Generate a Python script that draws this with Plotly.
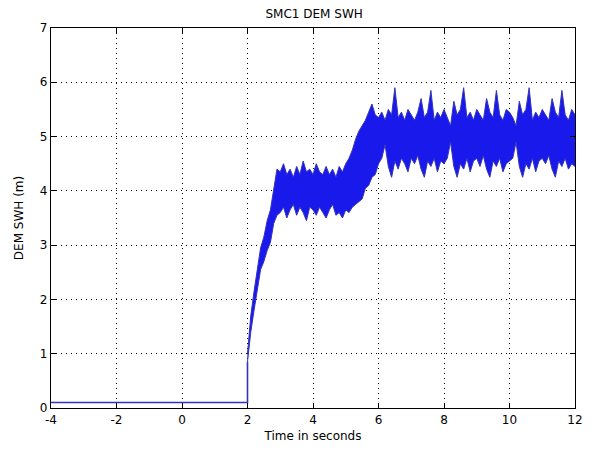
import plotly.graph_objects as go

# Pre-step baseline (seconds, metres)
base_t = [-4.0, 2.0, 2.0]
base_v = [0.1, 0.1, 0.85]

# Envelope of the noisy signal after the step, sampled every 0.1 s
env_t = [round(2.0 + 0.1 * i, 1) for i in range(101)]
env_hi = [
    1.0, 1.7, 2.15, 2.6, 2.95, 3.15, 3.45, 3.65, 4.0, 4.4,
    4.35, 4.5, 4.3, 4.4, 4.25, 4.45, 4.3, 4.55, 4.35, 4.4,
    4.3, 4.5, 4.35, 4.3, 4.45, 4.3, 4.4, 4.25, 4.45, 4.35,
    4.5, 4.6, 4.75, 4.95, 5.1, 5.2, 5.3, 5.45, 5.6, 5.4,
    5.35, 5.45, 5.3, 5.5, 5.4, 5.9, 5.35, 5.45, 5.3, 5.5,
    5.4, 5.3, 5.45, 5.7, 5.35, 5.45, 5.85, 5.3, 5.45, 5.35,
    5.5, 5.35, 5.2, 5.65, 5.4, 5.5, 5.9, 5.35, 5.45, 5.3,
    5.5, 5.4, 5.3, 5.7, 5.45, 5.35, 5.85, 5.4, 5.3, 5.5,
    5.45, 5.35, 5.2, 5.65, 5.4, 5.5, 5.9, 5.3, 5.45, 5.35,
    5.5, 5.4, 5.3, 5.7, 5.45, 5.35, 5.85, 5.4, 5.3, 5.5,
    5.4,
]
env_lo = [
    0.85, 1.4, 1.8, 2.2, 2.55, 2.7, 2.9, 3.05, 3.4, 3.55,
    3.6, 3.7, 3.5, 3.65, 3.75, 3.55, 3.7, 3.6, 3.45, 3.7,
    3.65, 3.55, 3.7, 3.6, 3.5, 3.65, 3.75, 3.55, 3.6, 3.5,
    3.65, 3.6, 3.7, 3.75, 3.8, 3.85, 4.05, 4.1, 4.25, 4.3,
    4.5, 4.6, 4.85, 4.45, 4.25, 4.55, 4.4, 4.6, 4.5, 4.35,
    4.6, 4.5, 4.65, 4.4, 4.25, 4.55, 4.45, 4.6, 4.35, 4.55,
    4.5, 4.6, 4.9, 4.45, 4.25, 4.5, 4.4, 4.6, 4.35, 4.55,
    4.6, 4.45, 4.65, 4.4, 4.25, 4.55, 4.45, 4.6, 4.35, 4.5,
    4.55, 4.6, 4.9, 4.45, 4.25, 4.5, 4.4, 4.6, 4.35, 4.55,
    4.6, 4.5, 4.65, 4.4, 4.25, 4.55, 4.45, 4.6, 4.4, 4.5,
    4.45,
]

x_ticks = [-4, -2, 0, 2, 4, 6, 8, 10, 12]
x_labels = ["-4", "-2", "0", "2", "4", "6", "8", "10", "12"]
y_ticks = [0, 1, 2, 3, 4, 5, 6, 7]
y_labels = ["0", "1", "2", "3", "4", "5", "6", "7"]

blue = "rgb(25,25,235)"
edge = "rgb(50,50,190)"
FONT = "DejaVu Sans, Liberation Sans, Arial"

fig = go.Figure()
fig.add_trace(go.Scatter(x=base_t, y=base_v, mode="lines",
                         line=dict(color=edge, width=1.6), hoverinfo="skip"))
fig.add_trace(go.Scatter(x=env_t, y=env_lo, mode="lines",
                         line=dict(color=edge, width=1), hoverinfo="skip"))
fig.add_trace(go.Scatter(x=env_t, y=env_hi, mode="lines", fill="tonexty",
                         fillcolor=blue, line=dict(color=edge, width=1),
                         hoverinfo="skip"))

axis_common = dict(
    showline=True, linecolor="black", linewidth=1.2, mirror="ticks",
    ticks="inside", ticklen=5, tickcolor="black",
    showgrid=True, gridcolor="black", gridwidth=1, griddash="1px,4px",
    zeroline=False, tickfont=dict(family=FONT, size=12, color="black"),
)

fig.update_layout(
    width=595, height=453,
    margin=dict(l=51, r=16, t=28, b=44),
    paper_bgcolor="white", plot_bgcolor="white",
    showlegend=False,
    title=dict(text="SMC1 DEM SWH", x=0.528, xanchor="center", y=0.969, yanchor="middle",
               font=dict(family=FONT, size=12, color="black")),
    xaxis=dict(range=[-4, 12], tickvals=x_ticks, ticktext=x_labels,
               title=dict(text="Time in seconds", standoff=6,
                          font=dict(family=FONT, size=12, color="black")),
               **axis_common),
    yaxis=dict(range=[0, 7], tickvals=y_ticks, ticktext=y_labels,
               title=dict(text="DEM SWH (m)", standoff=13,
                          font=dict(family=FONT, size=12, color="black")),
               **axis_common),
)

fig.write_html("out.html")
